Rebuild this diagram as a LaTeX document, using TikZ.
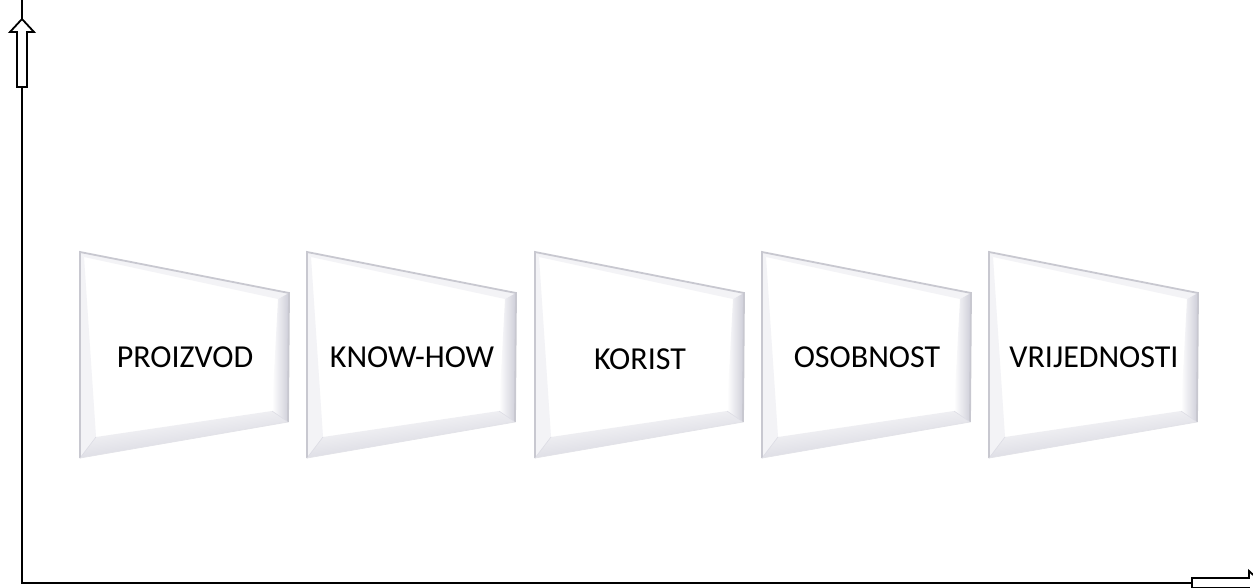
\documentclass[tikz,border=0pt]{standalone}
\usepackage{fontspec}
\setmainfont{Carlito}
\definecolor{bevgray}{HTML}{CDCDD8}
\definecolor{bevlight}{HTML}{F3F3F6}
\definecolor{edgegray}{HTML}{C8C8D0}
\begin{document}
\begin{tikzpicture}[x=1pt,y=-1pt,
  axisline/.style={line width=2pt,black},
  blockarrow/.style={line width=1.8pt,black,fill=white,line join=miter},
  label/.style={font=\fontsize{32}{36}\selectfont,anchor=base,inner sep=0pt,text=black},
  pics/bevelbox/.style={code={
    % face
    \fill[white] (4,257) -- (198,299) -- (192,411) -- (16,437) -- cycle;
    % top bevel
    \fill[bevlight] (0,252) -- (209,293) -- (198,299) -- (4,257) -- cycle;
    % left bevel
    \fill[bevlight] (0,252) -- (4,257) -- (16,437) -- (0,458) -- cycle;
    % right bevel
    \shade[left color=white, right color=bevgray] (198,299) -- (209,293) -- (208,422) -- (192,411) -- cycle;
    % bottom bevel
    \shade[top color=white, bottom color=bevgray, shading angle=8] (16,437) -- (192,411) -- (208,422) -- (0,458) -- cycle;
    % miter lines
    \draw[bevgray!70,line width=0.6pt] (0,458) -- (16,437);
    \draw[bevgray!70,line width=0.6pt] (208,422) -- (192,411);
    % outer outline
    \draw[edgegray,line width=1.8pt,line join=miter] (208,422) -- (209,293) -- (0,252) -- (0,458);
    \draw[edgegray!50,line width=0.8pt] (0,458) -- (208,422);
  }}]
\useasboundingbox (0,0) rectangle (1253,588);
\clip (0,0) rectangle (1253,588);

% boxes
\pic (b1) at (80,0) {bevelbox};
\pic (b2) at (307,0) {bevelbox};
\pic (b3) at (535,0) {bevelbox};
\pic (b4) at (762,0) {bevelbox};
\pic (b5) at (989,0) {bevelbox};

\node[label] (t1) at (185,367) {PROIZVOD};
\node[label] (t2) at (412,367) {KNOW-HOW};
\node[label] (t3) at (640,369) {KORIST};
\node[label] (t4) at (867,367) {OSOBNOST};
\node[label] (t5) at (1094,367) {VRIJEDNOSTI};

% axes
\coordinate (ytop) at (22,0);
\coordinate (origin) at (22,583);
\coordinate (xend) at (1253,583);
\draw[axisline,line join=miter] (ytop) -- (origin) -- (xend);

% block arrows
\draw[blockarrow] (17,87) -- (17,32) -- (10,32) -- (22,19) -- (34,32) -- (27,32) -- (27,87) -- cycle;
\draw[blockarrow] (1192,578) -- (1249,578) -- (1249,571) -- (1262,583) -- (1249,595) -- (1249,588) -- (1192,588) -- cycle;
\end{tikzpicture}
\end{document}
